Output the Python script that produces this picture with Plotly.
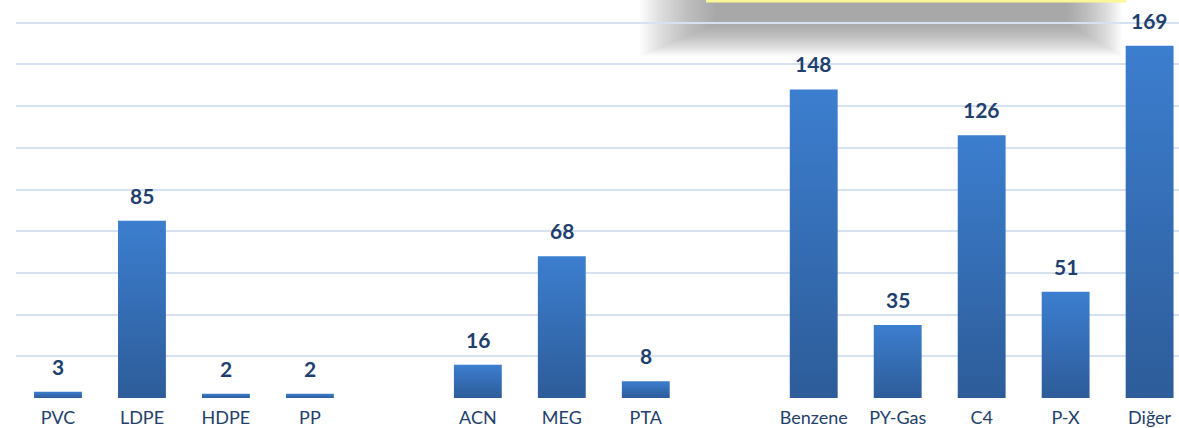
import plotly.graph_objects as go

# Product groups (slots left empty between groups)
categories = ["PVC", "LDPE", "HDPE", "PP", "ACN", "MEG", "PTA",
              "Benzene", "PY-Gas", "C4", "P-X", "Diğer"]
values = [3, 85, 2, 2, 16, 68, 8, 148, 35, 126, 51, 169]
slots = [0, 1, 2, 3, 5, 6, 7, 9, 10, 11, 12, 13]

W, H = 1179, 428
ML, MR, MT, MB = 16, 0, 0, 30
BAR_W = 0.57
Y_MAX = 190.9
X_RANGE = [-0.5, 13.35]

fig = go.Figure()

# Bars drawn as filled outlines so each gets its own vertical gradient
for x, v in zip(slots, values):
    x0, x1 = x - BAR_W / 2, x + BAR_W / 2
    fig.add_trace(go.Scatter(
        x=[x0, x1, x1, x0, x0], y=[0, 0, v, v, 0],
        mode="lines", line=dict(width=0), fill="toself",
        fillgradient=dict(type="vertical",
                          colorscale=[[0, "#2d5c99"], [1, "#3c7ecf"]]),
        hoverinfo="skip", showlegend=False,
    ))

# Value labels above the bars
for x, v in zip(slots, values):
    fig.add_annotation(x=x, y=v, text=f"<b>{v}</b>", showarrow=False,
                       yanchor="bottom", yshift=11,
                       font=dict(family="Lato, 'Open Sans', sans-serif",
                                 size=21, color="#1f3f6e"))


def px_x(p):
    return (p - ML) / (W - ML - MR)


def px_y(p):
    return (H - MB - p) / (H - MT - MB)


# Soft grey shadow of the callout box at the top
layers = 30
for i in range(layers):
    t = i / (layers - 1)
    fig.add_shape(type="rect", xref="paper", yref="paper", layer="below",
                  x0=px_x(640 + 75 * t), x1=px_x(1122 - 55 * t),
                  y0=px_y(56 - 32 * t), y1=px_y(-5),
                  fillcolor="#787878", opacity=0.03, line_width=0)

# Callout box edge (yellow)
fig.add_shape(type="rect", xref="paper", yref="paper", layer="above",
              x0=px_x(706), x1=px_x(1126), y0=px_y(2.5), y1=px_y(-5),
              fillcolor="#fbf797", line_width=0)

fig.update_layout(
    width=W, height=H,
    margin=dict(l=ML, r=MR, t=MT, b=MB),
    paper_bgcolor="white", plot_bgcolor="white",
    showlegend=False,
    xaxis=dict(range=X_RANGE, tickmode="array", tickvals=slots,
               ticktext=categories, showgrid=False, zeroline=False,
               showline=False, ticks="", ticklabelstandoff=7,
               tickfont=dict(family="Lato, 'Open Sans', sans-serif",
                             size=18, color="#23406b")),
    yaxis=dict(range=[0, Y_MAX], dtick=20, tick0=0, showgrid=True,
               gridcolor="#d6e2f2", gridwidth=2, zeroline=False,
               showticklabels=False, showline=False, ticks=""),
)

fig.write_html("out.html")
